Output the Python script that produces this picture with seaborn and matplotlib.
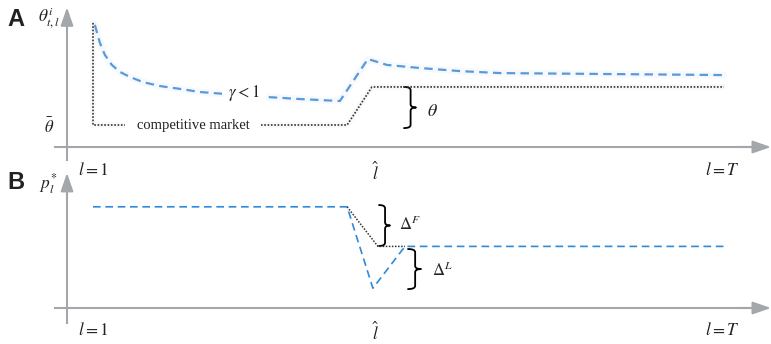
import matplotlib
matplotlib.use("Agg")
import matplotlib.pyplot as plt
import seaborn as sns
from matplotlib.path import Path
from matplotlib.patches import PathPatch

# Stage index and its tick labels
l_ticks = [1, 10, 21]
l_tick_labels = [r"$l = 1$", r"$\hat{l}$", r"$l = T$"]

# Panel A: quality path theta_{t,l}
theta_bar = 1.0
theta_top = 2.73
compet_x = [1, 1, 9.08, 9.87, 21.06]
compet_y = [5.64, 1.0, 1.0, 2.73, 2.73]
gamma_x = [1.06, 1.13, 1.22, 1.38, 1.60, 1.86, 2.18, 2.59, 3.13, 3.77, 4.40,
           5.99, 7.58, 8.85, 9.74, 10.35, 11.40, 12.67, 13.94, 17.12, 21.06]
gamma_y = [5.55, 5.18, 4.73, 4.18, 3.73, 3.41, 3.18, 2.95, 2.77, 2.64, 2.50,
           2.32, 2.18, 2.09, 4.00, 3.73, 3.59, 3.45, 3.36, 3.32, 3.27]

# Panel B: prices p*_l
price_x = [1, 9.08, 9.90, 10.92, 21.06]
price_y = [4.6, 4.6, 0.9, 2.8, 2.8]
front_x = [9.08, 10.06, 10.92]
front_y = [4.6, 2.8, 2.8]
price_ticks = [4.6, 2.8]

sns.set_style("white")
plt.rcParams["mathtext.fontset"] = "stix"
plt.rcParams["font.family"] = ["Liberation Serif", "DejaVu Sans"]

W, H = 771, 344
GRAY = "#a3a6aa"
BLUE_A = "#5b9ad8"
BLUE_B = "#2f8ad8"
INK = "#222222"

fig = plt.figure(figsize=(W / 100, H / 100), dpi=100)
fig.patch.set_facecolor("white")


def xdat(px):
    return 1 + (px - 93) / 31.45


axA = fig.add_axes([0, 179 / H, 1, 165 / H])
axB = fig.add_axes([0, 0, 1, 179 / H])
axA.set_xlim(xdat(0), xdat(W))
axA.set_ylim((147 - 165) / 22, 147 / 22)
axB.set_xlim(xdat(0), xdat(W))
axB.set_ylim((308 - 344) / 22, (308 - 165) / 22)

# axes with arrows
for ax, ybot, ytip in [(axA, -0.59, 6.35), (axB, -0.68, 6.14)]:
    ax.set_facecolor("none")
    for s in ["top", "right"]:
        ax.spines[s].set_visible(False)
    ax.spines["left"].set_position(("data", xdat(67)))
    ax.spines["bottom"].set_position(("data", 0))
    ax.spines["left"].set_bounds(ybot, ytip - 0.3)
    ax.spines["bottom"].set_bounds(xdat(55), xdat(760))
    for s in ["left", "bottom"]:
        ax.spines[s].set_color(GRAY)
        ax.spines[s].set_linewidth(1.5)
    arrow = dict(arrowstyle="-|>,head_length=1.1,head_width=0.38", color=GRAY,
                 lw=1.5, shrinkA=0, shrinkB=0)
    ax.annotate("", xy=(xdat(67), ytip), xytext=(xdat(67), ytip - 1.0),
                arrowprops=arrow, annotation_clip=False)
    ax.annotate("", xy=(xdat(771), 0), xytext=(xdat(740), 0),
                arrowprops=arrow, annotation_clip=False)
    ax.set_xticks(l_ticks, l_tick_labels)
    ax.tick_params(axis="x", direction="out", length=8.6, width=1.1,
                   color=GRAY, pad=2, labelsize=12.5, labelcolor=INK)
    ax.tick_params(axis="y", direction="out", length=6.5, width=1.1,
                   color=GRAY, pad=3, labelsize=12, labelcolor=INK)
    ax.set_xlabel("")
    ax.set_ylabel("")

axA.set_yticks([theta_bar], [r"$\bar{\theta}$"])
axB.set_yticks(price_ticks, ["", ""])
axB.tick_params(axis="x", pad=1.5)


def brace(ax, x, y0, y1, w, lw=1.3):
    """Right-pointing curly brace from y0 (bottom) to y1 (top) at x."""
    ym = (y0 + y1) / 2
    r = (y1 - y0) * 0.08
    xm = x + w * 0.55
    verts = [(x, y1), (xm, y1), (xm, y1 - r),
             (xm, ym + r),
             (xm, ym), (x + w, ym),
             (xm, ym), (xm, ym - r),
             (xm, y0 + r),
             (xm, y0), (x, y0)]
    codes = [Path.MOVETO, Path.CURVE3, Path.CURVE3,
             Path.LINETO,
             Path.CURVE3, Path.CURVE3,
             Path.CURVE3, Path.CURVE3,
             Path.LINETO,
             Path.CURVE3, Path.CURVE3]
    ax.add_patch(PathPatch(Path(verts, codes), fill=False, lw=lw, color="black",
                           capstyle="round", joinstyle="round"))


# Panel A lines
sns.lineplot(x=gamma_x, y=gamma_y, ax=axA, color=BLUE_A, lw=5, alpha=0.05,
             estimator=None, sort=False, legend=False)
sns.lineplot(x=compet_x, y=compet_y, ax=axA, color="#888888", lw=4, alpha=0.05,
             estimator=None, sort=False, legend=False)
sns.lineplot(x=gamma_x, y=gamma_y, ax=axA, color=BLUE_A, lw=1.6,
             linestyle=(0, (3.8, 2.4)), estimator=None, sort=False, legend=False)
sns.lineplot(x=compet_x, y=compet_y, ax=axA, color="#333333", lw=1.2,
             linestyle=(0, (1, 1)), estimator=None, sort=False, legend=False)

axA.text(xdat(193), theta_bar, "competitive market", fontsize=10.5, color=INK,
         ha="center", va="center", family=["Liberation Serif"],
         bbox=dict(boxstyle="square,pad=0.8", fc="white", ec="none"))
axA.text(xdat(244), (147 - 93) / 22, r"$\gamma < 1$", fontsize=12, color=INK,
         ha="center", va="center",
         bbox=dict(boxstyle="square,pad=0.4", fc="white", ec="none"))
brace(axA, xdat(404), theta_bar - 0.14, theta_top, 12 / 31.45)
axA.text(xdat(432), (147 - 111) / 22, r"$\theta$", fontsize=13, color=INK,
         ha="center", va="center")

# Panel B lines
sns.lineplot(x=price_x, y=price_y, ax=axB, color=BLUE_B, lw=1.2,
             linestyle=(0, (4.6, 2.8)), estimator=None, sort=False, legend=False)
sns.lineplot(x=front_x, y=front_y, ax=axB, color="#333333", lw=1.1,
             linestyle=(0, (1, 1)), estimator=None, sort=False, legend=False)
brace(axB, xdat(379), 2.82, 4.68, 11 / 31.45)
axB.text(xdat(410), (308 - 225) / 22, r"$\Delta^F$", fontsize=12, color=INK,
         ha="center", va="center")
brace(axB, xdat(408), 0.86, 2.68, 13 / 31.45)
axB.text(xdat(442), (308 - 271) / 22, r"$\Delta^L$", fontsize=12, color=INK,
         ha="center", va="center")

# Panel letters and axis names
fig.text(16 / W, 1 - 20 / H, "A", fontsize=17, fontweight="bold", color=INK,
         ha="center", va="center", family=["Liberation Sans"])
fig.text(16 / W, 1 - 182 / H, "B", fontsize=17, fontweight="bold", color=INK,
         ha="center", va="center", family=["Liberation Sans"])
fig.text(49 / W, 1 - 18 / H, r"$\theta^{i}_{t,l}$", fontsize=12.5, color=INK,
         ha="center", va="center")
fig.text(48 / W, 1 - 184 / H, r"$p^{*}_{l}$", fontsize=12.5, color=INK,
         ha="center", va="center")

fig.savefig("out.png", dpi=100, facecolor="white")
